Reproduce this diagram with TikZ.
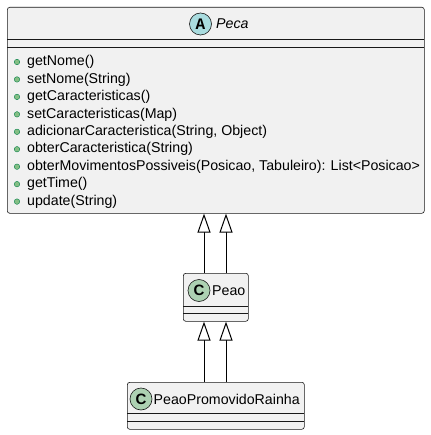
\documentclass[tikz,border=0pt]{standalone}
\usepackage{fontspec}
\setmainfont{Liberation Sans}
\newfontfamily\monob{Liberation Mono}
\usetikzlibrary{arrows.meta}
\definecolor{boxfill}{HTML}{F1F1F1}
\definecolor{boxline}{HTML}{181818}
\definecolor{absfill}{HTML}{A9DCDF}
\definecolor{clsfill}{HTML}{ADD1B2}
\definecolor{pubfill}{HTML}{84BE84}
\definecolor{publine}{HTML}{038048}
\tikzset{
  umlbox/.style={draw=boxline, fill=boxfill, line width=0.6pt, rounded corners=2.5pt, rectangle, inner sep=0pt, anchor=north west},
  sep/.style={draw=boxline, line width=0.6pt},
  badge/.style={circle, draw=boxline, line width=0.6pt, minimum size=22pt, inner sep=0pt},
  txt/.style={anchor=west, inner sep=0pt, font=\fontsize{14.2}{16}\selectfont},
  bullet/.style={circle, fill=pubfill, draw=publine, line width=0.4pt, minimum size=5.5pt, inner sep=0pt},
  ext/.style={draw=black, line width=1pt, -{Triangle[open, length=19pt, width=13pt, fill=white]}},
}
\begin{document}
\begin{tikzpicture}[x=1pt, y=-1pt]
\useasboundingbox (0,0) rectangle (430,435);
% Peca
\node[umlbox, minimum width=417pt, minimum height=206pt] (peca) at (7,7) {};
\draw[sep] (7,39.5) -- (424,39.5);
\draw[sep] (7,47) -- (424,47);
\node[badge, fill=absfill] (pecaA) at (200.5,24) {\monob\bfseries\fontsize{16}{16}\selectfont A};
\node[txt, font=\fontsize{14.2}{16}\selectfont\itshape] (pecaname) at (216,24) {Peca};
\foreach \t [count=\i from 0] in {getNome(), setNome(String), getCaracteristicas(), setCaracteristicas(Map), {adicionarCaracteristica(String, Object)}, obterCaracteristica(String), {obterMovimentosPossiveis(Posicao, Tabuleiro): List<Posicao>}, getTime(), update(String)} {
  \node[bullet] (b\i) at (17, 62+\i*17.45) {};
  \node[txt] (m\i) at (27, 62+\i*17.45) {\t};
}
% Peao
\node[umlbox, minimum width=65pt, minimum height=48pt] (peao) at (183,273) {};
\draw[sep] (183,306) -- (248,306);
\draw[sep] (183,313) -- (248,313);
\node[badge, fill=clsfill] (peaoC) at (199,290.5) {\bfseries\fontsize{15}{15}\selectfont C};
\node[txt] (peaoname) at (212,290.5) {Peao};
% PeaoPromovidoRainha
\node[umlbox, minimum width=177pt, minimum height=47pt] (ppr) at (127,382) {};
\draw[sep] (127,413) -- (304,413);
\draw[sep] (127,421) -- (304,421);
\node[badge, fill=clsfill] (pprC) at (141,399) {\bfseries\fontsize{15}{15}\selectfont C};
\node[txt] (pprname) at (153.5,399) {PeaoPromovidoRainha};
% inheritance
\draw[ext] ([xshift=21pt]peao.north west) -- ([xshift=21pt]peao.north west |- peca.south);
\draw[ext] ([xshift=43pt]peao.north west) -- ([xshift=43pt]peao.north west |- peca.south);
\draw[ext] ([xshift=77pt]ppr.north west) -- ([xshift=77pt]ppr.north west |- peao.south);
\draw[ext] ([xshift=99pt]ppr.north west) -- ([xshift=99pt]ppr.north west |- peao.south);
\end{tikzpicture}
\end{document}
